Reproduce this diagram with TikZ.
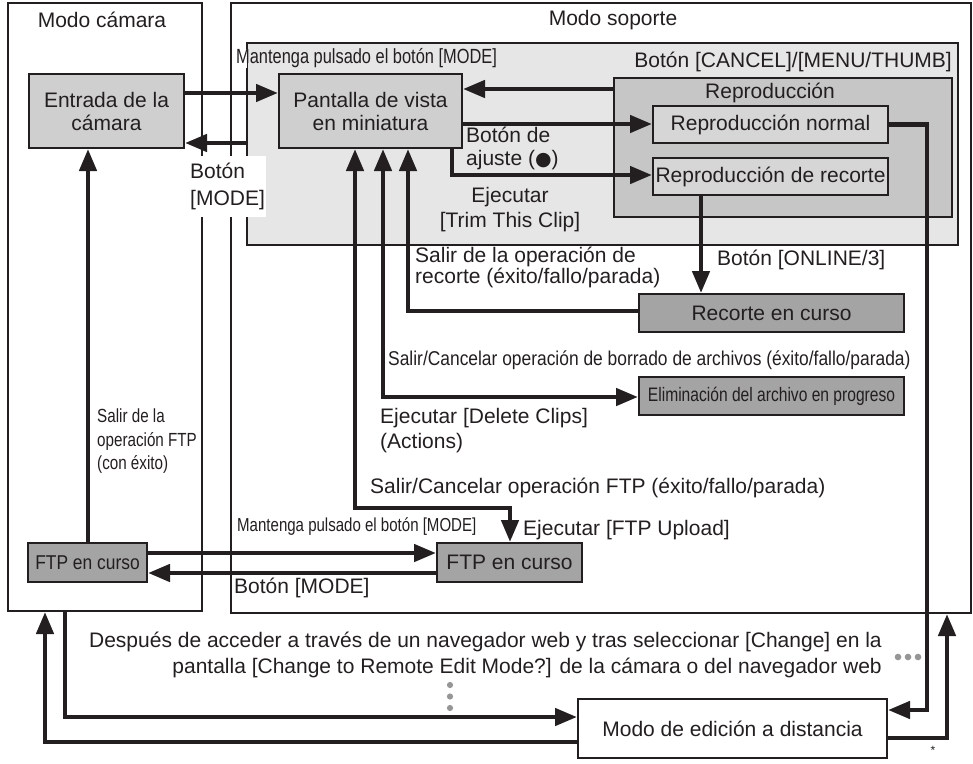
\documentclass[tikz,border=0pt]{standalone}
\usepackage{fontspec}
\setmainfont{Liberation Sans}
\newfontfamily\condfont[FakeStretch=0.8]{Liberation Sans}
\newfontfamily\condfontb[FakeStretch=0.87]{Liberation Sans}
\newfontfamily\symfont{DejaVu Sans}
\usetikzlibrary{arrows.meta}
\definecolor{ink}{RGB}{35,31,32}
\definecolor{panelc}{RGB}{230,230,230}
\definecolor{nodec}{RGB}{207,207,207}
\definecolor{regionc}{RGB}{198,198,198}
\definecolor{reprc}{RGB}{214,214,214}
\definecolor{darkc}{RGB}{164,164,164}
\definecolor{dotc}{RGB}{150,150,150}
\tikzset{
  ln/.style={line width=4.5pt, draw=ink},
  tip/.style={-{Triangle[length=22pt,width=17pt]}},
  tips/.style={{Triangle[length=22pt,width=17pt]}-{Triangle[length=22pt,width=17pt]}},
  frame/.style={draw=ink, line width=2pt, inner sep=0pt},
  box/.style={frame, font=\fontsize{21}{23}\selectfont, align=center, text=ink},
  lbl/.style={inner sep=0pt, font=\fontsize{21}{23}\selectfont, text=ink},
  clbl/.style={inner sep=0pt, font=\condfont\fontsize{20}{23}\selectfont, text=ink},
}
\begin{document}
\begin{tikzpicture}[x=1pt,y=-1pt]
\useasboundingbox (0,0) rectangle (973,763);
% outer mode frames
\node[frame, minimum width=194, minimum height=608, anchor=north west] (camara) at (7,2) {};
\node[frame, minimum width=740, minimum height=610, anchor=north west] (soporte) at (230,2) {};
\node[frame, fill=panelc, minimum width=711, minimum height=202, anchor=north west] (panel) at (246,42) {};
\node[frame, fill=regionc, minimum width=338, minimum height=139, anchor=north west] (repr) at (613,77) {};
% boxes
\node[box, fill=nodec, minimum width=155, minimum height=74] (entrada) at (106.5,111) {Entrada de la\\cámara};
\node[box, fill=nodec, minimum width=183, minimum height=74] (pantalla) at (370.5,111) {Pantalla de vista\\en miniatura};
\node[box, fill=reprc, minimum width=235, minimum height=37] (reprnormal) at (770.5,124.5) {Reproducción normal};
\node[box, fill=reprc, minimum width=235, minimum height=37] (reprrecorte) at (770.5,176.5) {Reproducción de recorte};
\node[box, fill=darkc, minimum width=265, minimum height=38] (recorte) at (771.5,313) {Recorte en curso};
\node[box, fill=darkc, minimum width=265, minimum height=38, font=\condfont\fontsize{19.5}{23}\selectfont] (elim) at (771.5,396) {Eliminación del archivo en progreso};
\node[box, fill=darkc, minimum width=119, minimum height=39, font=\condfontb\fontsize{20}{23}\selectfont] (ftpL) at (87.5,562.5) {FTP en curso};
\node[box, fill=darkc, minimum width=145, minimum height=39] (ftpR) at (509.5,562.5) {FTP en curso};
\node[box, fill=white, minimum width=309, minimum height=59] (remote) at (732.5,728.5) {Modo de edición a distancia};
% gap in panel border behind top label
\fill[white] (244.6,49) rectangle (247.4,68);
% titles
\node[lbl] (tcam) at (102,20) {Modo cámara};
\node[lbl] (tsop) at (613,20) {Modo soporte};
\node[clbl, anchor=west, font=\condfont\fontsize{20.5}{23}\selectfont] (lmant) at (236,58) {Mantenga pulsado el botón [MODE]};
\node[lbl, anchor=east] (lcancel) at (952,62) {Botón [CANCEL]/[MENU/THUMB]};
\node[lbl] (lrepr) at (770,93) {Reproducción};
% connectors
\draw[ln,tip] (entrada.east |- 0,93) -- (pantalla.west |- 0,93);
\draw[ln,tip] (panel.west |- 0,143) -- (entrada.east |- 0,143);
\draw[ln,tip] (repr.west |- 0,89) -- (pantalla.east |- 0,89);
\draw[ln,tip] (pantalla.east |- 0,124) -- (reprnormal.west |- 0,124);
\draw[ln,tip] (pantalla.south -| 452,0) |- (reprrecorte.west |- 0,175);
\draw[ln,tip] (reprrecorte.south -| 701,0) -- (recorte.north -| 701,0);
\draw[ln,tip] (recorte.west |- 0,311) -| (pantalla.south -| 408,0);
\draw[ln,tips] (pantalla.south -| 383,0) |- (elim.west |- 0,397);
\draw[ln,tips] (pantalla.south -| 355,0) -- (355,508) -| (ftpR.north -| 510,0);
\draw[ln,tip] (ftpL.north -| 88,0) -- (entrada.south -| 88,0);
\draw[ln,tip] (ftpL.east |- 0,553) -- (ftpR.west |- 0,553);
\draw[ln,tip] (ftpR.west |- 0,573) -- (ftpL.east |- 0,573);
\draw[ln,tip] (reprnormal.east) -| (927,710) -- (remote.east |- 0,710);
\draw[ln,tip] (remote.east |- 0,738) -| (soporte.south -| 947,0);
\draw[ln,tip] (camara.south -| 65,0) |- (remote.west |- 0,717);
\draw[ln,tip] (remote.west |- 0,742) -| (camara.south -| 45,0);
% dots
\fill[dotc] (898,657) circle (3.3) (908,657) circle (3.3) (918,657) circle (3.3);
\fill[dotc] (450,685) circle (3.1) (450,696.5) circle (3.1) (450,708) circle (3.1);
% labels
\node[lbl, anchor=west, fill=white, align=left, inner xsep=1pt, inner ysep=7pt, font=\fontsize{21}{27}\selectfont] (lmode1) at (189,186.5) {Botón\\{[}MODE]};
\node[lbl, anchor=west, align=left] (lajuste) at (466,148.5) {Botón de\\ajuste ({\symfont\fontsize{19}{19}\selectfont ●})};
\node[lbl, align=center, font=\fontsize{21}{25}\selectfont] (ltrim) at (510,209.5) {Ejecutar\\{[}Trim This Clip]};
\node[lbl, anchor=west, align=left, font=\fontsize{21}{21}\selectfont] (lsalrec) at (415,267.5) {Salir de la operación de\\recorte (éxito/fallo/parada)};
\node[lbl, anchor=west] (lonline) at (717,260) {Botón [ONLINE/3]};
\node[clbl, anchor=west, font=\condfontb\fontsize{20}{23}\selectfont] (lsalbor) at (388,360) {Salir/Cancelar operación de borrado de archivos (éxito/fallo/parada)};
\node[lbl, anchor=west, align=left, font=\fontsize{21}{25}\selectfont] (ldel) at (380,431) {Ejecutar [Delete Clips]\\(Actions)};
\node[clbl, anchor=west, align=left, font=\condfont\fontsize{19}{23.5}\selectfont] (lsalftp) at (97,441.5) {Salir de la\\operación FTP\\(con éxito)};
\node[lbl, anchor=west] (lcanftp) at (370,488) {Salir/Cancelar operación FTP (éxito/fallo/parada)};
\node[clbl, anchor=west, font=\condfont\fontsize{18.8}{23}\selectfont] (lmant2) at (237,527) {Mantenga pulsado el botón [MODE]};
\node[lbl, anchor=west] (lftpup) at (523,530) {Ejecutar [FTP Upload]};
\node[lbl, anchor=west] (lmode2) at (234,588) {Botón [MODE]};
\node[lbl, anchor=east, align=right, font=\fontsize{21}{26}\selectfont] (lweb) at (882,655) {Después de acceder a través de un navegador web y tras seleccionar [Change] en la\\pantalla [Change to Remote Edit Mode?] de la cámara o del navegador web};
\node[lbl, font=\fontsize{12}{12}\selectfont] (lstar) at (933,750) {*};
\end{tikzpicture}
\end{document}
